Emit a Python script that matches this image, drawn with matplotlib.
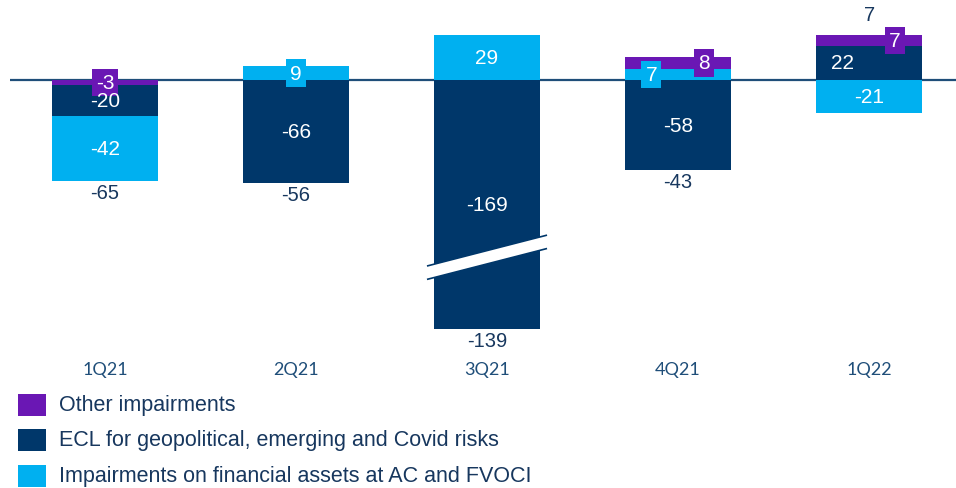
import matplotlib.pyplot as plt
from matplotlib.patches import Polygon, Rectangle

# Dados (milhões)
quarters = ['1Q21', '2Q21', '3Q21', '4Q21', '1Q22']
other_imp = [-3, 0, 0, 8, 7]
ecl_risks = [-20, -66, -169, -58, 22]
fin_assets = [-42, 9, 29, 7, -21]
totals = [-65, -56, -139, -43, 7]

series_names = ['Other impairments',
                'ECL for geopolitical, emerging and Covid risks',
                'Impairments on financial assets at AC and FVOCI']

# Cores
PURPLE = '#6A17B4'
NAVY = '#00376A'
LIGHT = '#00B0F0'
TEXT_NAVY = '#17375E'
LINE_NAVY = '#1F4E79'

BREAK_CUT = 9        # unidades cortadas na barra quebrada (3Q21)
BREAK_LIMIT = -150

W, H = 956, 489
fig = plt.figure(figsize=(W / 100, H / 100), dpi=100)
ax = fig.add_axes([10 / W, 1 - 350 / H, 946 / W, 350 / H])
ax.set_xlim(-0.497, 4.455)
ax.set_ylim(-173.0, 52.1)
ax.axis('off')

# valores de desenho (com quebra de eixo)
ecl_plot = [v + BREAK_CUT if v < BREAK_LIMIT else v for v in ecl_risks]

series = [
    ('other', other_imp, other_imp, PURPLE),
    ('ecl', ecl_risks, ecl_plot, NAVY),
    ('fin', fin_assets, fin_assets, LIGHT),
]
pos_order = ['fin', 'ecl', 'other']
neg_order = ['other', 'ecl', 'fin']
by_key = {s[0]: s for s in series}

# deslocamentos horizontais dos rótulos
label_dx = {('fin', 3): -0.14, ('other', 3): 0.136,
            ('other', 4): 0.136, ('ecl', 4): -0.14}

bar_w = 0.555
x = list(range(len(quarters)))
pos_top = [0.0] * len(x)
neg_bot = [0.0] * len(x)
segments = []
for i in x:
    for key in pos_order:
        _, vals, pvals, col = by_key[key]
        if pvals[i] > 0:
            ax.bar(i, pvals[i], bar_w, bottom=pos_top[i], color=col, zorder=2)
            segments.append((key, i, vals[i], pos_top[i] + pvals[i] / 2, col))
            pos_top[i] += pvals[i]
    for key in neg_order:
        _, vals, pvals, col = by_key[key]
        if pvals[i] < 0:
            ax.bar(i, pvals[i], bar_w, bottom=neg_bot[i], color=col, zorder=2)
            segments.append((key, i, vals[i], neg_bot[i] + pvals[i] / 2, col))
            neg_bot[i] += pvals[i]

# rótulos dos segmentos
for key, i, v, ymid, col in segments:
    xx = i + label_dx.get((key, i), 0)
    if abs(v) < 10:
        ax.text(xx, ymid, f'{v}', ha='center', va='center', color='white',
                fontsize=15, family='Liberation Sans', zorder=5,
                bbox=dict(boxstyle='square,pad=0.2', fc=col, ec='none'))
    else:
        ax.text(xx, ymid, f'{v}', ha='center', va='center', color='white',
                fontsize=15, family='Liberation Sans', zorder=5)

# totais
for i, t in enumerate(totals):
    if t < 0:
        ax.annotate(f'{t}', (i, neg_bot[i]), xytext=(0, -8.5), textcoords='offset points',
                    ha='center', va='center', color=TEXT_NAVY, fontsize=14.5,
                    family='Liberation Sans', annotation_clip=False)
    else:
        ax.annotate(f'{t}', (i, pos_top[i]), xytext=(0, 15), textcoords='offset points',
                    ha='center', va='center', color=TEXT_NAVY, fontsize=14.5,
                    family='Liberation Sans', annotation_clip=False)

# linha do zero
ax.axhline(0, color=LINE_NAVY, lw=1.6, zorder=1)

# quebra da barra 3Q21
bi = 2
y_l, y_r, th = -123.8, -104.2, 4.3
poly = Polygon([(bi - 0.31, y_l + th), (bi + 0.31, y_r + th),
                (bi + 0.31, y_r - th), (bi - 0.31, y_l - th)],
               closed=True, fc='white', ec='none', zorder=3)
ax.add_patch(poly)
ax.plot([bi - 0.31, bi + 0.31], [y_l + th, y_r + th], color=NAVY, lw=1.2, zorder=4)
ax.plot([bi - 0.31, bi + 0.31], [y_l - th, y_r - th], color=NAVY, lw=1.2, zorder=4)

# categorias
for i, q in enumerate(quarters):
    ax.text(i, -186, q, ha='center', va='center', color=LINE_NAVY, fontsize=13,
            family=['Lato', 'DejaVu Sans'], clip_on=False)

# legenda manual
leg_y = [406, 441, 477]
leg_cols = [PURPLE, NAVY, LIGHT]
for yy, col, name in zip(leg_y, leg_cols, series_names):
    fig.add_artist(Rectangle((18 / W, 1 - (yy + 11) / H), 28 / W, 22 / H,
                             transform=fig.transFigure, fc=col, ec='none'))
    fig.text(59 / W, 1 - yy / H, name, ha='left', va='center', color=TEXT_NAVY,
             fontsize=15.5, family='Liberation Sans')

fig.savefig('out.png', dpi=100)
